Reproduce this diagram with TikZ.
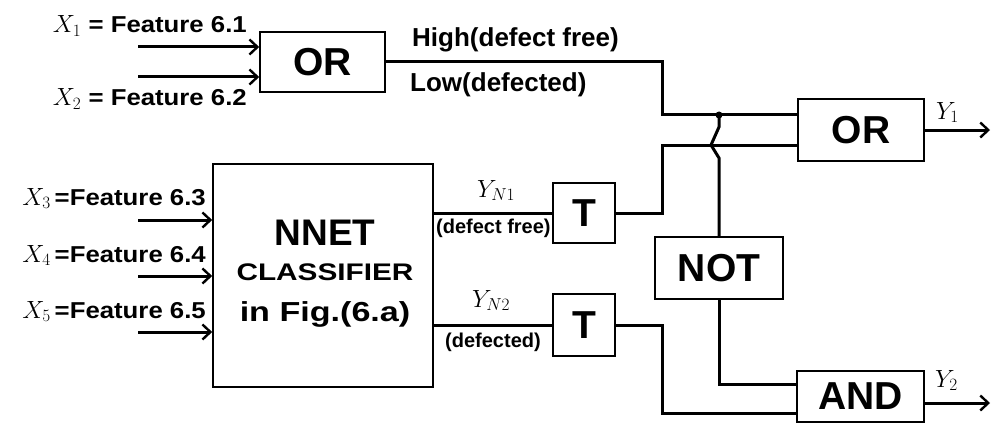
\documentclass[tikz,border=0pt]{standalone}
\usepackage{fontspec}
\setmainfont{Liberation Sans}
\newfontfamily\widefont{Liberation Sans}[FakeStretch=1.24]
\newfontfamily\featfont{Liberation Sans}[FakeStretch=1.12]
\usetikzlibrary{arrows.meta,calc}
\newcommand\featvar[1]{{\fontsize{25}{25}\selectfont$X_{#1}$}}

\begin{document}
\begin{tikzpicture}[x=1pt,y=-1pt,
  gate/.style={draw,line width=1.6pt,inner sep=0pt,font=\fontsize{39}{39}\selectfont\bfseries},
  wire/.style={line width=3pt},
  inarrow/.style={wire,-{Straight Barb[length=8pt,width=15pt,line width=2.4pt]}},
  feat/.style={inner sep=0pt,anchor=base east,font=\featfont\fontsize{23}{23}\selectfont\bfseries},
  tag/.style={inner sep=0pt,anchor=base west,font=\fontsize{26}{26}\selectfont\bfseries},
  small/.style={inner sep=0pt,anchor=base west,font=\fontsize{20}{20}\selectfont\bfseries},
  sym/.style={inner sep=0pt,anchor=base west,font=\fontsize{25}{25}\selectfont}]
  \useasboundingbox (0,0) rectangle (992,433);

  % gates
  \node[gate,minimum width=125pt,minimum height=60pt] (or1) at (322.5,62) {OR};
  \node[gate,minimum width=126pt,minimum height=62pt] (or2) at (861,130) {OR};
  \node[gate,minimum width=220pt,minimum height=223pt] (nnet) at (323,275.5) {};
  \node[gate,minimum width=62pt,minimum height=60pt] (t1) at (584,213) {T};
  \node[gate,minimum width=62pt,minimum height=62pt] (t2) at (584,325) {T};
  \node[gate,minimum width=128pt,minimum height=62pt] (not) at (719,268) {NOT};
  \node[gate,minimum width=127pt,minimum height=51pt] (and) at (860.5,396.5) {AND};

  % classifier text
  \node[inner sep=0pt,anchor=base,font=\fontsize{37}{37}\selectfont\bfseries] (nnetname) at (325,245) {NNET};
  \node[inner sep=0pt,anchor=base,font=\widefont\fontsize{24}{24}\selectfont\bfseries] (nnetkind) at (325,280) {CLASSIFIER};
  \node[inner sep=0pt,anchor=base,font=\widefont\fontsize{27.5}{27.5}\selectfont\bfseries] (nnetref) at (325,321) {in Fig.(6.a)};

  % inputs
  \coordinate (x1) at (138,47);
  \coordinate (x2) at (138,77);
  \draw[inarrow] (x1) -- (or1.west |- x1);
  \draw[inarrow] (x2) -- (or1.west |- x2);
  \node[feat] (f1) at (247,33) {\featvar{1} = Feature 6.1};
  \node[feat] (f2) at (247,106) {\featvar{2} = Feature 6.2};
  \foreach \i/\y/\b in {3/220/205,4/276/262,5/332/318} {
    \coordinate (x\i) at (138,\y);
    \draw[inarrow] (x\i) -- (nnet.west |- x\i);
    \node[feat] (f\i) at (206,\b) {\featvar{\i}\,=Feature 6.\i};
  }

  % wiring
  \coordinate (hi) at (662,115);
  \coordinate (lo) at (662,145);
  \coordinate (dot) at (719,115);
  \coordinate (andlo) at (662,413);
  \draw[wire] (or1.east) -| (hi) -- (or2.west |- hi);
  \draw[wire] (t1.east) -| (lo) -- (or2.west |- lo);
  \draw[wire] (dot) -- ++(0,12) -- ++(-8,18) -- ++(8,13) -- (not.north);
  \fill (dot) circle (3.5pt);
  \draw[wire] (not.south) |- ($(and.west)+(0,-12.5)$);
  \draw[wire] (t2.east) -| (andlo) -- (and.west |- andlo);
  \draw[wire] (nnet.east |- t1.west) -- (t1.west);
  \draw[wire] (nnet.east |- t2.west) -- (t2.west);

  % outputs
  \coordinate (y1) at (990,130);
  \coordinate (y2) at (990,403);
  \draw[inarrow] (or2.east) -- (y1);
  \draw[inarrow] (and.east |- y2) -- (y2);

  % labels
  \node[tag] (high) at (412,47) {High(defect free)};
  \node[tag] (low) at (410,92) {Low(defected)};
  \node[sym] (yn1) at (477,197) {$Y_{N1}$};
  \node[small] (free) at (436,233) {(defect free)};
  \node[sym] (yn2) at (472,307) {$Y_{N2}$};
  \node[small] (defect) at (445,347) {(defected)};
  \node[sym] (ylab1) at (936,119) {$Y_1$};
  \node[sym] (ylab2) at (935,387) {$Y_2$};
\end{tikzpicture}
\end{document}
